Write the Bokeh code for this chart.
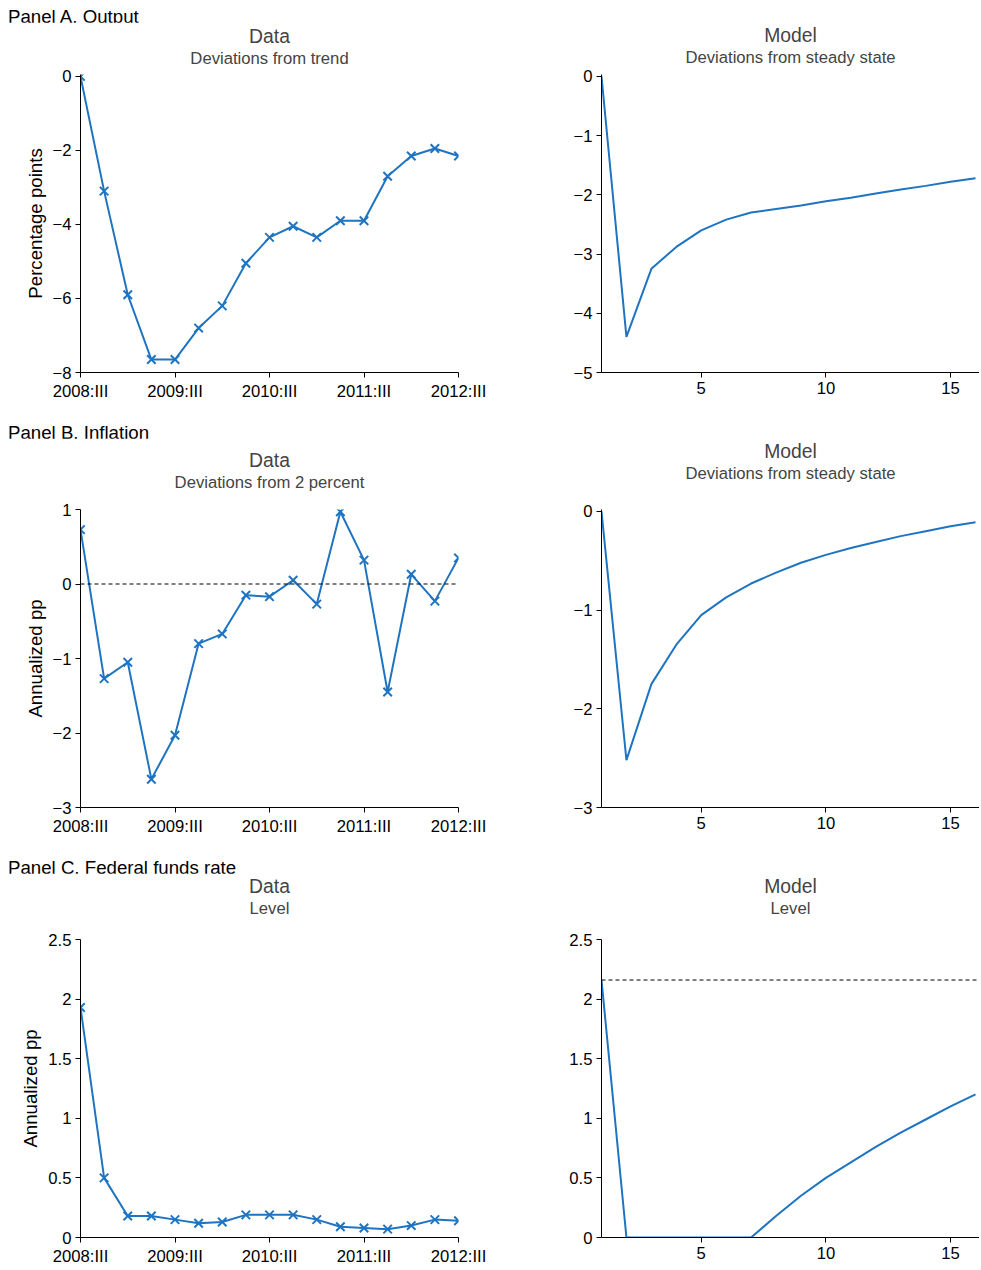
from bokeh.plotting import figure
from bokeh.layouts import column, row
from bokeh.models import Div, Title, Span, FixedTicker
from bokeh.embed import file_html
from bokeh.resources import INLINE

BLUE = "#1f74c1"
FONT = "Liberation Sans"

quarters = list(range(17))
quarter_ticks = [0, 4, 8, 12, 16]
quarter_labels = ["2008:III", "2009:III", "2010:III", "2011:III", "2012:III"]
horizon = list(range(1, 17))

output_data = [0, -3.1, -5.9, -7.65, -7.65, -6.8, -6.2, -5.05, -4.35, -4.05, -4.35, -3.9, -3.9, -2.7, -2.15, -1.95, -2.15]
output_model = [0, -4.4, -3.25, -2.88, -2.6, -2.42, -2.3, -2.24, -2.18, -2.11, -2.05, -1.98, -1.91, -1.85, -1.78, -1.72]
infl_data = [0.73, -1.27, -1.05, -2.62, -2.03, -0.8, -0.67, -0.15, -0.17, 0.05, -0.27, 0.97, 0.32, -1.45, 0.13, -0.23, 0.35]
infl_model = [0, -2.52, -1.75, -1.35, -1.05, -0.87, -0.73, -0.62, -0.52, -0.44, -0.37, -0.31, -0.25, -0.2, -0.15, -0.11]
ffr_data = [1.93, 0.5, 0.18, 0.18, 0.15, 0.12, 0.13, 0.19, 0.19, 0.19, 0.15, 0.09, 0.08, 0.07, 0.1, 0.15, 0.14]
ffr_model = [2.16, 0, 0, 0, 0, 0, 0, 0.18, 0.35, 0.5, 0.63, 0.76, 0.88, 0.99, 1.1, 1.2]
ffr_steady = 2.16


def fmt(v):
    return ("%g" % v).replace("-", "\u2212")


def base(title, sub, xr, yr, yticks, left, right, gap, bottom, ylabel=None):
    p = figure(x_range=xr, y_range=yr, frame_width=378, frame_height=298,
               output_backend="svg", toolbar_location=None, title=None,
               min_border_left=left, min_border_right=right, min_border_top=0,
               min_border_bottom=bottom)
    p.add_layout(Title(text=" ", text_font_size=f"{gap}px", standoff=0), "above")
    p.add_layout(Title(text=sub, align="center", text_font=FONT, text_font_size="12.5pt",
                       text_font_style="normal", standoff=0), "above")
    p.add_layout(Title(text=title, align="center", text_font=FONT, text_font_size="14.5pt",
                       text_font_style="normal", standoff=0), "above")
    p.grid.visible = False
    p.outline_line_color = None
    p.yaxis.ticker = FixedTicker(ticks=yticks)
    p.yaxis.major_label_overrides = {t: fmt(t) for t in yticks}
    for ax in (p.xaxis, p.yaxis):
        ax.major_label_text_font = FONT
        ax.major_label_text_font_size = "12.5pt"
        ax.major_label_text_color = "black"
        ax.minor_tick_line_color = None
        ax.major_tick_in = 0
        ax.major_tick_out = 5
        ax.axis_line_color = "black"
        ax.major_label_standoff = 4
    if ylabel:
        p.yaxis.axis_label = ylabel
        p.yaxis.axis_label_text_font = FONT
        p.yaxis.axis_label_text_font_size = "14pt"
        p.yaxis.axis_label_text_font_style = "normal"
        p.yaxis.axis_label_text_color = "black"
        p.yaxis.axis_label_standoff = 4
    return p


def data_fig(sub, vals, yr, yticks, ylabel, gap, bottom):
    p = base("Data", sub, (0, 16), yr, yticks, 80, 95, gap, bottom, ylabel)
    p.xaxis.ticker = FixedTicker(ticks=quarter_ticks)
    p.xaxis.major_label_overrides = dict(zip(quarter_ticks, quarter_labels))
    p.line(quarters, vals, color=BLUE, line_width=2)
    p.scatter(quarters, vals, marker="x", color=BLUE, size=12, line_width=2)
    return p


def model_fig(sub, vals, yr, yticks, gap, bottom):
    p = base("Model", sub, (1, 16.16), yr, yticks, 48, 0, gap, bottom)
    p.xaxis.ticker = FixedTicker(ticks=[5, 10, 15])
    p.line(horizon, vals, color=BLUE, line_width=2)
    return p


def label(text):
    return Div(text=text, width=400, height=22,
               styles={"font-family": FONT, "font-size": "14pt", "margin": "0",
                       "padding-left": "8px", "padding-top": "4px", "color": "black"})


a1 = data_fig("Deviations from trend", output_data, (-8, 0.05), [0, -2, -4, -6, -8], "Percentage points", 4, 44)
a2 = model_fig("Deviations from steady state", output_model, (-5, 0.03), [0, -1, -2, -3, -4, -5], 6, 44)

b1 = data_fig("Deviations from 2 percent", infl_data, (-3, 1), [1, 0, -1, -2, -3], "Annualized pp", 14, 44)
b1.add_layout(Span(location=0, dimension="width", line_color="black", line_dash="4 3", line_width=1))
b2 = model_fig("Deviations from steady state", infl_model, (-3, 0.02), [0, -1, -2, -3], 22, 44)

c1 = data_fig("Level", ffr_data, (0, 2.5), [0, 0.5, 1, 1.5, 2, 2.5], "Annualized pp", 18, 26)
c2 = model_fig("Level", ffr_model, (0, 2.5), [0, 0.5, 1, 1.5, 2, 2.5], 18, 26)
c2.add_layout(Span(location=ffr_steady, dimension="width", line_color="black", line_dash="4 3", line_width=1))

p = column(label("Panel A. Output"), row(a1, a2),
           label("Panel B. Inflation"), row(b1, b2),
           label("Panel C. Federal funds rate"), row(c1, c2), spacing=0)

open("out.html", "w").write(file_html(p, INLINE))
